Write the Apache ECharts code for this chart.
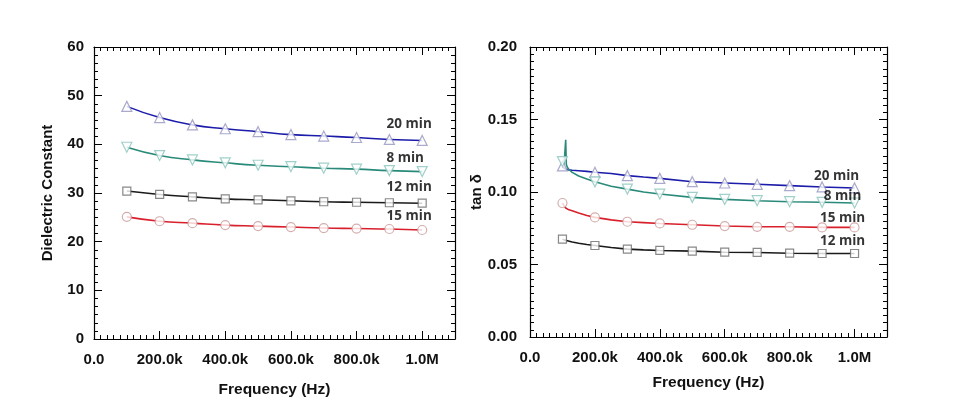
<!DOCTYPE html>
<html>
<head>
<meta charset="utf-8">
<script src="https://cdn.jsdelivr.net/npm/echarts@6/dist/echarts.min.js"></script>
<style>
  html, body { margin: 0; padding: 0; background: #fff; }
  #chart { width: 960px; height: 408px; }
</style>
</head>
<body>
<div id="chart"></div>
<script>
// frequencies of the markers (Hz)
const freq = [100000, 200000, 300000, 400000, 500000, 600000, 700000, 800000, 900000, 1000000];

// dielectric constant
const dk20 = [47.8, 45.5, 44.0, 43.2, 42.6, 42.0, 41.7, 41.4, 41.0, 40.8];
const dk8 = [39.4, 37.7, 36.8, 36.2, 35.7, 35.4, 35.1, 34.9, 34.6, 34.4];
const dk12 = [30.4, 29.7, 29.2, 28.8, 28.6, 28.4, 28.2, 28.1, 28.0, 27.9];
const dk15 = [25.1, 24.2, 23.8, 23.4, 23.2, 23.0, 22.8, 22.7, 22.6, 22.4];

// tan delta, markers
const tan20 = [0.118, 0.1136, 0.1113, 0.1094, 0.1071, 0.1062, 0.1053, 0.1044, 0.1035, 0.1028];
const tan8 = [0.121, 0.107, 0.102, 0.0986, 0.0963, 0.0949, 0.094, 0.0933, 0.0929, 0.0924];
const tan15 = [0.0924, 0.0825, 0.0795, 0.0783, 0.0774, 0.0765, 0.076, 0.076, 0.0756, 0.0756];
const tan12 = [0.0675, 0.0631, 0.0606, 0.0597, 0.0592, 0.0585, 0.0583, 0.0578, 0.0576, 0.0576];

// tan delta, measured lines (denser near the start)
const tanLineFreq = [100000, 105000, 108000, 110000, 112000, 115000, 120000, 130000, 150000, 175000, 200000,
  250000, 300000, 350000, 400000, 500000, 600000, 700000, 800000, 900000, 1000000];
const tan20Line = [0.1175, 0.1165, 0.116, 0.1158, 0.1156, 0.1154, 0.1152, 0.115, 0.1147, 0.1142, 0.1136,
  0.1128, 0.1113, 0.1103, 0.1094, 0.1071, 0.1062, 0.1053, 0.1044, 0.1035, 0.1028];
const tan8Line = [0.121, 0.119, 0.118, 0.136, 0.119, 0.117, 0.1155, 0.1135, 0.111, 0.109, 0.107,
  0.104, 0.102, 0.100, 0.0986, 0.0963, 0.0949, 0.094, 0.0933, 0.0929, 0.0924];
const tan15Line = [0.0924, 0.0905, 0.0895, 0.089, 0.0887, 0.0883, 0.0877, 0.087, 0.0855, 0.0838, 0.0825,
  0.0808, 0.0795, 0.0789, 0.0783, 0.0774, 0.0765, 0.076, 0.076, 0.0756, 0.0756];
const tan12Line = [0.0675, 0.067, 0.0668, 0.0667, 0.0666, 0.0664, 0.066, 0.0655, 0.0647, 0.0638, 0.0631,
  0.0617, 0.0606, 0.0601, 0.0597, 0.0592, 0.0585, 0.0583, 0.0578, 0.0576, 0.0576];

const names = ["20 min", "8 min", "12 min", "15 min"];

const axisFont = { fontFamily: "Liberation Sans", fontWeight: "bold", fontSize: 15, color: "#111" };

function fmtFreq(v) {
  if (v === 0) return "0.0";
  if (v >= 1000000) return (v / 1000000).toFixed(1) + "M";
  return (v / 1000).toFixed(1) + "k";
}

function xAxisOf(grid, top) {
  return {
    type: "value", gridIndex: grid, position: top ? "top" : "bottom",
    min: 0, max: 1100000, interval: 200000,
    axisLine: { show: true, onZero: false, lineStyle: { color: "#000", width: 1.2 } },
    axisTick: { show: true, inside: true, length: 8, lineStyle: { color: "#000" } },
    minorTick: { show: true, splitNumber: 10, length: 4, lineStyle: { color: "#000" } },
    splitLine: { show: false },
    axisLabel: top ? { show: false } : Object.assign({ margin: 13, showMaxLabel: false, formatter: fmtFreq }, axisFont),
    name: top ? "" : "Frequency (Hz)",
    nameLocation: "middle",
    nameGap: grid === 0 ? 43 : 38,
    nameTextStyle: { fontFamily: "Liberation Sans", fontWeight: "bold", fontSize: 15.5, color: "#111" }
  };
}

function yAxisOf(grid, right, max, interval, minor, fmt, name, gap) {
  return {
    type: "value", gridIndex: grid, position: right ? "right" : "left",
    min: 0, max: max, interval: interval,
    axisLine: { show: true, onZero: false, lineStyle: { color: "#000", width: 1.2 } },
    axisTick: { show: true, inside: true, length: 8, lineStyle: { color: "#000" } },
    minorTick: { show: true, splitNumber: minor, length: 4, lineStyle: { color: "#000" } },
    splitLine: { show: false },
    axisLabel: right ? { show: false } : Object.assign({ margin: grid === 0 ? 10 : 13, formatter: fmt }, axisFont),
    name: right ? "" : name,
    nameLocation: "middle",
    nameGap: gap,
    nameTextStyle: { fontFamily: "Liberation Sans", fontWeight: "bold", fontSize: 15, color: "#111" }
  };
}

function lineSeries(ax, xs, ys, color, smooth) {
  return {
    type: "line", xAxisIndex: ax, yAxisIndex: ax, smooth: smooth, showSymbol: false,
    data: xs.map((x, i) => [x, ys[i]]),
    lineStyle: { color: color, width: 1.6 }, z: 2, silent: true
  };
}

function markSeries(ax, ys, name, symbol, rotate, stroke, size, offset) {
  return {
    type: "scatter", xAxisIndex: ax, yAxisIndex: ax, name: name,
    symbol: symbol, symbolRotate: rotate, symbolSize: size,
    data: freq.map((x, i) => [x, ys[i]]),
    itemStyle: { color: "#fff", borderColor: stroke, borderWidth: 1.2 },
    label: {
      show: true, position: "inside", offset: offset,
      formatter: p => (p.dataIndex === ys.length - 1 ? name : ""),
      fontFamily: "Open Sans", fontWeight: "bold", fontSize: 13.5, color: "#000"
    },
    z: 3
  };
}

const cBlue = "#1c1caa", cTeal = "#2a8a7a", cBlack = "#1a1a1a", cRed = "#d8202c";
const sBlue = "#9595bf", sTeal = "#88c4bb", sBlack = "#6a6a6a", sRed = "#c99a9a";

const option = {
  backgroundColor: "#fff",
  animation: false,
  grid: [
    { left: 94, top: 47, width: 361, height: 292 },
    { left: 530, top: 47, width: 357, height: 290 }
  ],
  xAxis: [xAxisOf(0, false), xAxisOf(0, true), xAxisOf(1, false), xAxisOf(1, true)],
  yAxis: [
    yAxisOf(0, false, 60, 10, 6, v => String(v), "Dielectric Constant", 39),
    yAxisOf(0, true, 60, 10, 6, v => String(v), "", 0),
    yAxisOf(1, false, 0.2, 0.05, 10, v => v.toFixed(2), "tan δ", 45),
    yAxisOf(1, true, 0.2, 0.05, 10, v => v.toFixed(2), "", 0)
  ],
  series: [
    lineSeries(0, freq, dk20, cBlue, true),
    lineSeries(0, freq, dk8, cTeal, true),
    lineSeries(0, freq, dk12, cBlack, true),
    lineSeries(0, freq, dk15, cRed, true),
    markSeries(0, dk20, names[0], "triangle", 0, sBlue, 10, [-13, -16]),
    markSeries(0, dk8, names[1], "triangle", 180, sTeal, 10, [-17, -13]),
    markSeries(0, dk12, names[2], "rect", 0, sBlack, 8, [-13, -16]),
    markSeries(0, dk15, names[3], "circle", 0, sRed, 9, [-13, -14]),

    lineSeries(2, tanLineFreq, tan20Line, cBlue, false),
    lineSeries(2, tanLineFreq, tan8Line, cTeal, false),
    lineSeries(2, tanLineFreq, tan15Line, cRed, false),
    lineSeries(2, tanLineFreq, tan12Line, cBlack, false),
    markSeries(2, tan20, names[0], "triangle", 0, sBlue, 10, [-18, -12]),
    markSeries(2, tan8, names[1], "triangle", 180, sTeal, 10, [-12, -7]),
    markSeries(2, tan15, names[3], "circle", 0, sRed, 9, [-12, -9]),
    markSeries(2, tan12, names[2], "rect", 0, sBlack, 8, [-12, -12])
  ]
};

const chart = echarts.init(document.getElementById("chart"));
chart.setOption(option);
window.addEventListener("resize", () => chart.resize());
</script>
</body>
</html>
